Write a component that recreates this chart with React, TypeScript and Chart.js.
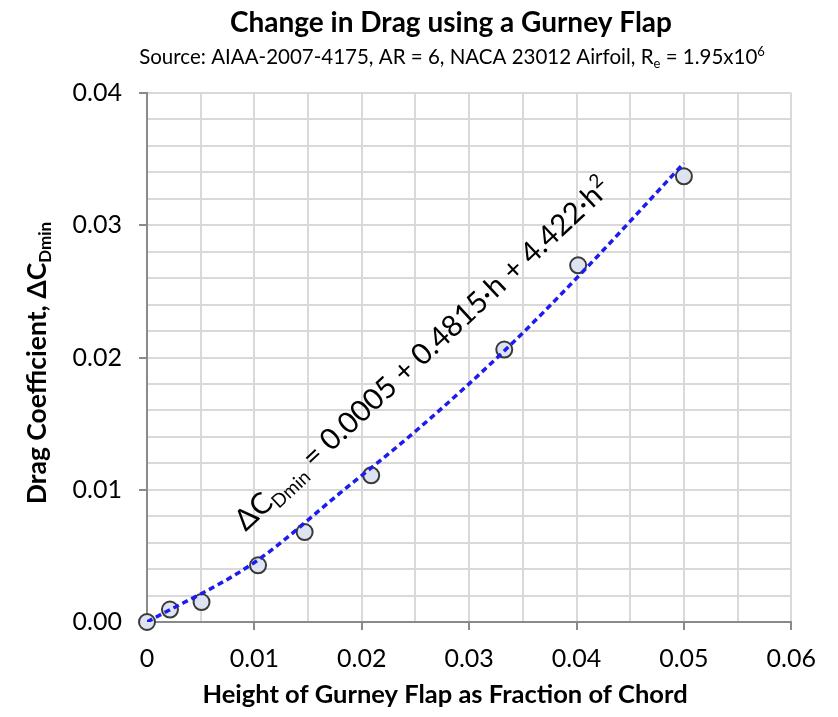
import React, { useEffect, useRef } from 'react';
import { Chart, registerables } from 'chart.js';

Chart.register(...registerables);

// ---- Data ----
const flapHeight = [0, 0.00214, 0.00508, 0.01034, 0.01468, 0.02088, 0.03327, 0.04015, 0.05];
const dragDelta = [0, 0.00094, 0.00151, 0.00429, 0.0068, 0.01109, 0.0206, 0.02697, 0.0337];

// dashed trend line, sampled along the drawn curve
const trendH = [0, 0.01, 0.0179, 0.0254, 0.0334, 0.0406, 0.05];
const trendCd = [0, 0.0045, 0.0097, 0.0147, 0.0206, 0.0265, 0.0347];

const xMin = 0;
const xMax = 0.06;
const xStep = 0.005;
const yMin = 0;
const yMax = 0.04;
const yStep = 0.002;

const titleText = 'Change in Drag using a Gurney Flap';
const subtitleSegs = [
  { t: 'Source: AIAA-2007-4175, AR = 6, NACA 23012 Airfoil, R' },
  { t: 'e', k: 'sub' },
  { t: ' = 1.95x10' },
  { t: '6', k: 'sup' },
];
const xTitle = 'Height of Gurney Flap as Fraction of Chord';
const yTitleSegs = [{ t: 'Drag Coefficient, ΔC' }, { t: 'Dmin', k: 'sub' }];
const equationSegs = [
  { t: 'ΔC' },
  { t: 'Dmin', k: 'sub' },
  { t: ' = 0.0005 + 0.4815·h + 4.422·h' },
  { t: '2', k: 'sup' },
];
// anchor of the equation label, in data units
const equationAnchor = { h: 0.0092, cd: 0.0068 };

const FAMILY = 'Lato, "Open Sans", sans-serif';

type Seg = { t: string; k?: string };

function drawRich(
  ctx: CanvasRenderingContext2D,
  segs: Seg[],
  x: number,
  y: number,
  size: number,
  weight: string,
  align: 'left' | 'center'
) {
  const fontFor = (k?: string) => `${weight} ${k ? Math.round(size * 0.65) : size}px ${FAMILY}`;
  let total = 0;
  for (const s of segs) {
    ctx.font = fontFor(s.k);
    total += ctx.measureText(s.t).width;
  }
  let cx = align === 'center' ? x - total / 2 : x;
  ctx.textAlign = 'left';
  ctx.textBaseline = 'alphabetic';
  for (const s of segs) {
    ctx.font = fontFor(s.k);
    const dy = s.k === 'sub' ? size * 0.2 : s.k === 'sup' ? -size * 0.4 : 0;
    ctx.fillText(s.t, cx, y + dy);
    cx += ctx.measureText(s.t).width;
  }
}

const isMajor = (v: number) => Math.abs(v * 100 - Math.round(v * 100)) < 1e-6;

const textPlugin = {
  id: 'richTexts',
  afterDraw(chart: any) {
    const ctx: CanvasRenderingContext2D = chart.ctx;
    ctx.save();
    ctx.fillStyle = '#000';
    // title
    drawRich(ctx, [{ t: titleText }], 443, 24, 28, 'bold', 'center');
    // subtitle
    drawRich(ctx, subtitleSegs, 444, 56, 20.5, 'normal', 'center');
    // x axis title
    drawRich(ctx, [{ t: xTitle }], 437, 695, 25.5, 'bold', 'center');
    // y axis title
    ctx.save();
    ctx.translate(38, 355);
    ctx.rotate(-Math.PI / 2);
    drawRich(ctx, yTitleSegs, 0, 0, 26.5, 'bold', 'center');
    ctx.restore();
    // equation
    const px = chart.scales.x.getPixelForValue(equationAnchor.h);
    const py = chart.scales.y.getPixelForValue(equationAnchor.cd);
    ctx.save();
    ctx.translate(px, py);
    ctx.rotate((-43 * Math.PI) / 180);
    drawRich(ctx, equationSegs, 0, 0, 29.5, 'normal', 'left');
    ctx.restore();
    ctx.restore();
  },
};

export default function App() {
  const ref = useRef<HTMLCanvasElement | null>(null);
  useEffect(() => {
    if (!ref.current) return;
    const chart = new Chart(ref.current, {
      type: 'scatter',
      data: {
        datasets: [
          {
            label: 'Trend',
            data: trendH.map((h, i) => ({ x: h, y: trendCd[i] })),
            showLine: true,
            borderColor: '#1c1cf0',
            borderWidth: 3.5,
            borderDash: [6, 4],
            pointRadius: 0,
            cubicInterpolationMode: 'monotone',
            fill: false,
          } as any,
          {
            label: 'Data',
            data: flapHeight.map((h, i) => ({ x: h, y: dragDelta[i] })),
            showLine: false,
            pointRadius: 8,
            pointBackgroundColor: '#dde3f0',
            pointBorderColor: '#3a3a3a',
            pointBorderWidth: 2,
            clip: false,
          } as any,
        ],
      },
      options: {
        responsive: false,
        animation: false,
        layout: { padding: { top: 85, right: 37, left: 0, bottom: 0 } },
        plugins: {
          legend: { display: false },
          tooltip: { enabled: false },
          title: { display: false },
        },
        scales: {
          x: {
            type: 'linear',
            min: xMin,
            max: xMax,
            afterFit: (s: any) => {
              s.height = 87;
            },
            afterBuildTicks: (s: any) => {
              const t = [];
              for (let i = 0; i <= Math.round((xMax - xMin) / xStep); i++) t.push({ value: xMin + i * xStep });
              s.ticks = t;
            },
            ticks: {
              autoSkip: false,
              maxRotation: 0,
              padding: 14,
              color: '#000',
              font: { family: FAMILY, size: 25 },
              callback: (v: any) => (isMajor(v) ? (Math.abs(v) < 1e-9 ? '0' : Number(v).toFixed(2)) : ''),
            },
            grid: {
              color: '#d9d9d9',
              lineWidth: 2,
              tickLength: 8,
              tickWidth: 2,
              tickColor: (c: any) => (c.tick && isMajor(c.tick.value) ? '#8a8a8a' : 'rgba(0,0,0,0)'),
            },
            border: { color: '#8a8a8a', width: 2 },
          },
          y: {
            type: 'linear',
            min: yMin,
            max: yMax,
            afterFit: (s: any) => {
              s.width = 139;
            },
            afterBuildTicks: (s: any) => {
              const t = [];
              for (let i = 0; i <= Math.round((yMax - yMin) / yStep); i++) t.push({ value: yMin + i * yStep });
              s.ticks = t;
            },
            ticks: {
              autoSkip: false,
              padding: 17,
              color: '#000',
              font: { family: FAMILY, size: 25 },
              callback: (v: any) => (isMajor(v) ? Number(v).toFixed(2) : ''),
            },
            grid: {
              color: '#d9d9d9',
              lineWidth: 2,
              tickLength: 8,
              tickWidth: 2,
              tickColor: (c: any) => (c.tick && isMajor(c.tick.value) ? '#8a8a8a' : 'rgba(0,0,0,0)'),
            },
            border: { color: '#8a8a8a', width: 2 },
          },
        },
      },
      plugins: [textPlugin],
    });
    return () => chart.destroy();
  }, []);
  return (
    <div style={{ width: 822, height: 701, background: '#fff' }}>
      <canvas ref={ref} width={822} height={701} style={{ display: 'block' }} />
    </div>
  );
}
